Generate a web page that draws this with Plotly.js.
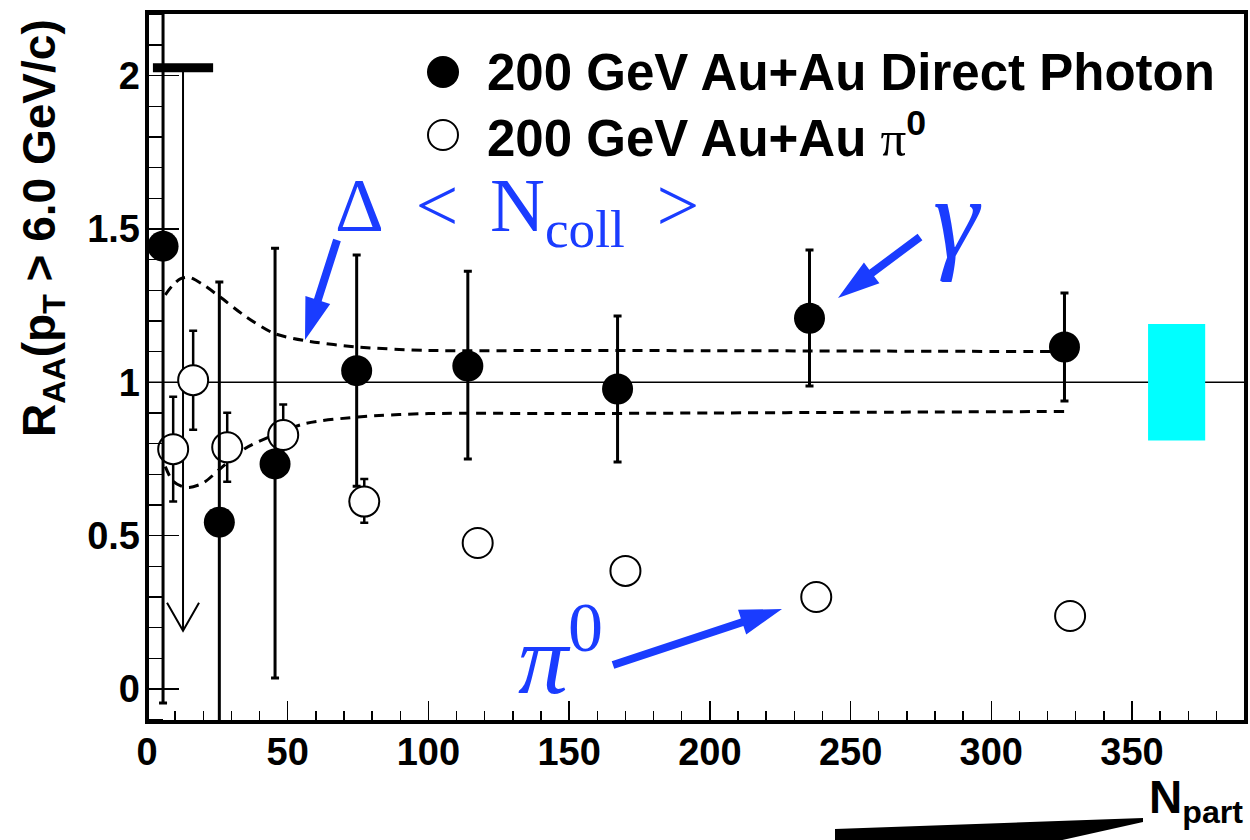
<!DOCTYPE html>
<html>
<head>
<meta charset="utf-8">
<script src="https://cdn.plot.ly/plotly-3.0.1.min.js"></script>
<style>html,body{margin:0;padding:0;background:#fff;}</style>
</head>
<body>
<div id="chart" style="width:1250px;height:840px;"></div>
<script>
// ---------------- DATA ----------------
// Direct photon R_AA vs N_part (filled circles)
const photonX      = [5.7, 25.7, 45.5, 74.5, 114.0, 167.2, 235.4, 326.0];
const photonY      = [1.444, 0.544, 0.734, 1.038, 1.053, 0.978, 1.209, 1.115];
const photonErrUp  = [1.20, 0.783, 0.703, 0.377, 0.309, 0.238, 0.222, 0.176];
const photonErrDn  = [1.490, 0.783, 0.698, 0.377, 0.303, 0.238, 0.221, 0.176];

// pi0 R_AA vs N_part (open circles)
const pi0X      = [9.3, 16.4, 28.5, 48.4, 77.2, 117.5, 170.0, 237.8, 328.0];
const pi0Y      = [0.782, 1.007, 0.788, 0.828, 0.611, 0.476, 0.385, 0.300, 0.238];
const pi0ErrUp  = [0.171, 0.161, 0.113, 0.100, 0.074, 0.020, 0.012, 0.010, 0.010];
const pi0ErrDn  = [0.171, 0.162, 0.112, 0.100, 0.069, 0.020, 0.012, 0.010, 0.010];

// Upper limit (most peripheral photon bin)
const limitX    = [12.8];
const limitY    = [2.026];
const limitTo   = [0.19];

// Delta <N_coll> uncertainty band (dashed curves)
const ncollX     = [6.5, 9, 12, 15, 20, 26, 35, 45, 56, 75, 100, 150, 200, 250, 326];
const ncollUpper = [1.285, 1.315, 1.338, 1.342, 1.318, 1.278, 1.215, 1.160, 1.136, 1.115, 1.104, 1.104, 1.103, 1.102, 1.100];
const ncollLower = [0.725, 0.680, 0.662, 0.657, 0.672, 0.718, 0.785, 0.828, 0.865, 0.887, 0.898, 0.898, 0.900, 0.902, 0.905];

// Global normalisation uncertainty box
const normRelErr = 0.19;
const normBoxX   = [355.7, 376.0];

// Axis ticks
const xTickStep = 50, xMinorStep = 10;
const yTickStep = 0.5, yMinorStep = 0.1;

// ---------------- GEOMETRY HELPERS ----------------
const W = 1250, H = 840;
const M = {l: 147, r: 4, t: 12, b: 118};
const PW = W - M.l - M.r, PH = H - M.t - M.b;
const XR = [0, 390.5], YR = [-0.1076, 2.2074];
function px2paper(px, py) { return [(px - M.l) / PW, (H - M.b - py) / PH]; }
function d2px(x, y) {
  return [M.l + (x - XR[0]) / (XR[1] - XR[0]) * PW, M.t + (YR[1] - y) / (YR[1] - YR[0]) * PH];
}
// filled arrow polygon (pixel endpoints) -> paper path
function arrowPath(tail, tip, sw, headL, headW) {
  const dx = tip[0] - tail[0], dy = tip[1] - tail[1];
  const L = Math.hypot(dx, dy), ux = dx / L, uy = dy / L, nx = -uy, ny = ux;
  const bx = tip[0] - ux * headL, by = tip[1] - uy * headL;
  const pts = [
    [tail[0] + nx * sw / 2, tail[1] + ny * sw / 2],
    [bx + nx * sw / 2, by + ny * sw / 2],
    [bx + nx * headW / 2, by + ny * headW / 2],
    tip,
    [bx - nx * headW / 2, by - ny * headW / 2],
    [bx - nx * sw / 2, by - ny * sw / 2],
    [tail[0] - nx * sw / 2, tail[1] - ny * sw / 2]
  ];
  return 'M' + pts.map(p => px2paper(p[0], p[1]).join(',')).join('L') + 'Z';
}
function polyPath(pts) {
  return 'M' + pts.map(p => px2paper(p[0], p[1]).join(',')).join('L') + 'Z';
}

const BLUE = '#1a3cff';
const SANS = 'Liberation Sans, Arial, Helvetica, sans-serif';
const SERIF = 'Liberation Serif, Times New Roman, serif';

// ---------------- TRACES ----------------
const traces = [
  {x: ncollX, y: ncollUpper, type: 'scatter', mode: 'lines', name: 'Δ<Ncoll> upper',
   line: {color: 'black', width: 3, dash: '10px,7px', shape: 'spline', smoothing: 0.8}, hoverinfo: 'skip'},
  {x: ncollX, y: ncollLower, type: 'scatter', mode: 'lines', name: 'Δ<Ncoll> lower',
   line: {color: 'black', width: 3, dash: '10px,7px', shape: 'spline', smoothing: 0.8}, hoverinfo: 'skip'},
  // upper limit shaft
  {x: [limitX[0], limitX[0]], y: [limitY[0], limitTo[0]], type: 'scatter', mode: 'lines',
   line: {color: 'black', width: 2}, name: 'limit', hoverinfo: 'skip'},
  // upper limit bar
  {x: limitX, y: limitY, type: 'scatter', mode: 'markers', name: 'limit bar',
   marker: {symbol: 'line-ew', size: 43, color: 'black', line: {color: 'black', width: 9}}},
  {x: pi0X, y: pi0Y, type: 'scatter', mode: 'markers', name: '200 GeV Au+Au π0',
   marker: {symbol: 'circle', size: 30, color: 'white', line: {color: 'black', width: 2}},
   error_y: {type: 'data', symmetric: false, array: pi0ErrUp, arrayminus: pi0ErrDn,
             color: 'black', thickness: 2.5, width: 4}},
  {x: photonX, y: photonY, type: 'scatter', mode: 'markers', name: '200 GeV Au+Au Direct Photon',
   marker: {symbol: 'circle', size: 31, color: 'black'},
   error_y: {type: 'data', symmetric: false, array: photonErrUp, arrayminus: photonErrDn,
             color: 'black', thickness: 3, width: 4}}
];

// ---------------- SHAPES ----------------
const tipPx  = d2px(limitX[0], limitTo[0]);
const shapes = [
  {type: 'rect', xref: 'x', yref: 'y', x0: normBoxX[0], x1: normBoxX[1],
   y0: 1 - normRelErr, y1: 1 + normRelErr, fillcolor: '#00ffff', line: {width: 0}, layer: 'below'},
  {type: 'line', xref: 'paper', yref: 'y', x0: 0, x1: 1, y0: 1, y1: 1,
   line: {color: 'black', width: 1.5}, layer: 'below'},
  // arrowhead (open V) of the upper limit
  {type: 'path', xref: 'paper', yref: 'paper',
   path: 'M' + px2paper(tipPx[0] - 16, tipPx[1] - 28).join(',') + 'L' + px2paper(tipPx[0], tipPx[1]).join(',') +
         'L' + px2paper(tipPx[0] + 16, tipPx[1] - 28).join(','),
   line: {color: 'black', width: 2}},
  // blue arrows
  {type: 'path', xref: 'paper', yref: 'paper', path: arrowPath([337, 240], [305, 340], 8, 42, 26),
   fillcolor: BLUE, line: {width: 0}},
  {type: 'path', xref: 'paper', yref: 'paper', path: arrowPath([920, 237], [838, 298], 8, 42, 26),
   fillcolor: BLUE, line: {width: 0}},
  {type: 'path', xref: 'paper', yref: 'paper', path: arrowPath([613, 665], [782, 609], 8, 42, 26),
   fillcolor: BLUE, line: {width: 0}},
  // black arrow fragment near N_part
  {type: 'path', xref: 'paper', yref: 'paper',
   path: polyPath([[835, 845], [835, 829], [1143, 818], [1143, 822], [1040, 845]]),
   fillcolor: 'black', line: {width: 0}},
  // legend markers
  {type: 'circle', xref: 'paper', yref: 'paper', xsizemode: 'pixel', ysizemode: 'pixel',
   xanchor: px2paper(443, 72)[0], yanchor: px2paper(443, 72)[1], x0: -16, x1: 16, y0: -16, y1: 16,
   fillcolor: 'black', line: {color: 'black', width: 0}},
  {type: 'circle', xref: 'paper', yref: 'paper', xsizemode: 'pixel', ysizemode: 'pixel',
   xanchor: px2paper(443, 135)[0], yanchor: px2paper(443, 135)[1], x0: -15, x1: 15, y0: -15, y1: 15,
   fillcolor: 'white', line: {color: 'black', width: 2}},
  // frame
  {type: 'rect', xref: 'paper', yref: 'paper', x0: 0, x1: 1, y0: 0, y1: 1,
   line: {color: 'black', width: 4}, layer: 'above'}
];

// ---------------- ANNOTATIONS ----------------
function pp(px, py) { return px2paper(px, py); }
const SP = '&#8196;&#8202;';
const annotations = [
  {xref: 'paper', yref: 'paper', x: pp(485, 72)[0], y: pp(485, 72)[1], xanchor: 'left', yanchor: 'middle',
   text: '200 GeV Au+Au Direct Photon', showarrow: false,
   font: {family: SANS, size: 51, weight: 'bold', color: 'black'}},
  {xref: 'paper', yref: 'paper', x: pp(485, 135)[0], y: pp(485, 135)[1], xanchor: 'left', yanchor: 'middle',
   text: '200 GeV Au+Au <span style="font-family:Liberation Serif;font-weight:normal">π</span><sup>0</sup>', showarrow: false,
   font: {family: SANS, size: 51, weight: 'bold', color: 'black'}},
  {xref: 'paper', yref: 'paper', x: pp(42, 228)[0], y: pp(42, 228)[1], xanchor: 'center', yanchor: 'middle',
   textangle: -90, showarrow: false,
   text: 'R<sub>AA</sub>(p<sub>T</sub> &gt; 6.0 GeV/c)',
   font: {family: SANS, size: 46, weight: 'bold', color: 'black'}},
  {xref: 'paper', yref: 'paper', x: pp(1245, 800)[0], y: pp(1245, 800)[1], xanchor: 'right', yanchor: 'middle',
   showarrow: false, text: 'N<sub>part</sub>',
   font: {family: SANS, size: 46, weight: 'bold', color: 'black'}},
  {xref: 'paper', yref: 'paper', x: pp(517, 211)[0], y: pp(517, 211)[1], xanchor: 'center', yanchor: 'middle',
   showarrow: false, text: 'Δ' + SP + '&lt;' + SP + 'N<sub>coll</sub>' + SP + '&gt;',
   font: {family: SERIF, size: 76, color: BLUE}},
  {xref: 'paper', yref: 'paper', x: pp(957, 218)[0], y: pp(957, 218)[1], xanchor: 'center', yanchor: 'middle',
   showarrow: false, text: '<i>γ</i>',
   font: {family: SERIF, size: 116, color: BLUE}},
  {xref: 'paper', yref: 'paper', x: pp(560, 652)[0], y: pp(560, 652)[1], xanchor: 'center', yanchor: 'middle',
   showarrow: false, text: '<i>π</i><sup>0</sup>',
   font: {family: SERIF, size: 100, color: BLUE}}
];

const tickFont = {family: SANS, size: 38, weight: 'bold', color: 'black'};
const layout = {
  width: W, height: H,
  margin: {l: M.l, r: M.r, t: M.t, b: M.b, pad: 0},
  paper_bgcolor: 'white', plot_bgcolor: 'white',
  showlegend: false,
  xaxis: {range: XR, showgrid: false, zeroline: false, showline: false,
          ticks: 'inside', ticklen: 21, tickwidth: 1.5, tickcolor: 'black',
          tick0: 0, dtick: xTickStep, tickfont: tickFont, ticklabelstandoff: 4,
          minor: {ticks: 'inside', ticklen: 11, tickwidth: 1.5, tickcolor: 'black', dtick: xMinorStep, tick0: 0, showgrid: false}},
  yaxis: {range: YR, showgrid: false, zeroline: false, showline: false,
          ticks: 'inside', ticklen: 32, tickwidth: 1.5, tickcolor: 'black',
          tick0: 0, dtick: yTickStep, tickfont: tickFont, ticklabelstandoff: 6,
          minor: {ticks: 'inside', ticklen: 16, tickwidth: 1.5, tickcolor: 'black', dtick: yMinorStep, tick0: 0, showgrid: false}},
  shapes: shapes,
  annotations: annotations
};

Plotly.newPlot('chart', traces, layout, {staticPlot: true, displayModeBar: false});
</script>
</body>
</html>
